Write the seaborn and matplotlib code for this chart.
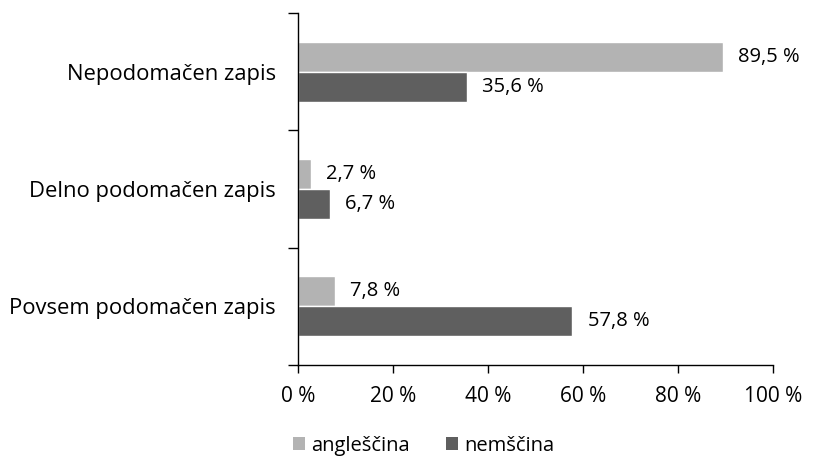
import matplotlib
matplotlib.use("Agg")
import matplotlib.pyplot as plt
import seaborn as sns
import pandas as pd
from matplotlib.patches import Patch

categories = ["Nepodomačen zapis", "Delno podomačen zapis", "Povsem podomačen zapis"]
languages = ["angleščina", "nemščina"]
anglescina = [89.5, 2.7, 7.8]
nemscina = [35.6, 6.7, 57.8]
x_ticks = [0, 20, 40, 60, 80, 100]
x_tick_labels = ["0 %", "20 %", "40 %", "60 %", "80 %", "100 %"]

colors = ["#B3B3B3", "#5F5F5F"]

df = pd.DataFrame({
    "kategorija": categories * 2,
    "jezik": [languages[0]] * 3 + [languages[1]] * 3,
    "delez": anglescina + nemscina,
})

sns.set_style("white")
plt.rcParams["font.family"] = ["Open Sans", "DejaVu Sans"]
plt.rcParams["text.color"] = "#000000"
plt.rcParams["xtick.color"] = "#000000"
plt.rcParams["ytick.color"] = "#000000"

fig = plt.figure(figsize=(8.3, 4.62), dpi=100)
ax = fig.add_axes([0.359, 0.21, 0.572, 0.762])

sns.barplot(data=df, y="kategorija", x="delez", hue="jezik",
            order=categories, hue_order=languages, palette=colors,
            width=0.51, orient="h", ax=ax, legend=False, saturation=1)

for container, vals in zip(ax.containers, [anglescina, nemscina]):
    labels = [f"{v:.1f}".replace(".", ",") + " %" for v in vals]
    ax.bar_label(container, labels=labels, padding=11, fontsize=14.5, color="#000000")

ax.set_xlim(0, 100)
ax.set_ylim(2.5, -0.5)
ax.set_xticks(x_ticks)
ax.set_xticklabels(x_tick_labels, fontsize=15)
ax.set_yticks(range(len(categories)))
ax.set_yticklabels(categories, fontsize=15.8)
ax.set_yticks([-0.5, 0.5, 1.5, 2.5], minor=True)
ax.tick_params(axis="y", which="major", length=0, pad=16)
ax.tick_params(axis="y", which="minor", left=True, length=7, width=1, color="#000000")
ax.tick_params(axis="x", which="major", bottom=True, length=6, width=1, color="#000000", pad=9)
ax.set_xlabel("")
ax.set_ylabel("")

for side in ["top", "right"]:
    ax.spines[side].set_visible(False)
for side in ["left", "bottom"]:
    ax.spines[side].set_color("#000000")
    ax.spines[side].set_linewidth(1)

handles = [Patch(facecolor=c, edgecolor="none") for c in colors]
fig.legend(handles, languages, loc="center", bbox_to_anchor=(0.51, 0.035),
           ncol=2, frameon=False, fontsize=14.5, handlelength=0.6, handleheight=0.6,
           handletextpad=0.3, columnspacing=1.8)

fig.savefig("out.png", dpi=100)
